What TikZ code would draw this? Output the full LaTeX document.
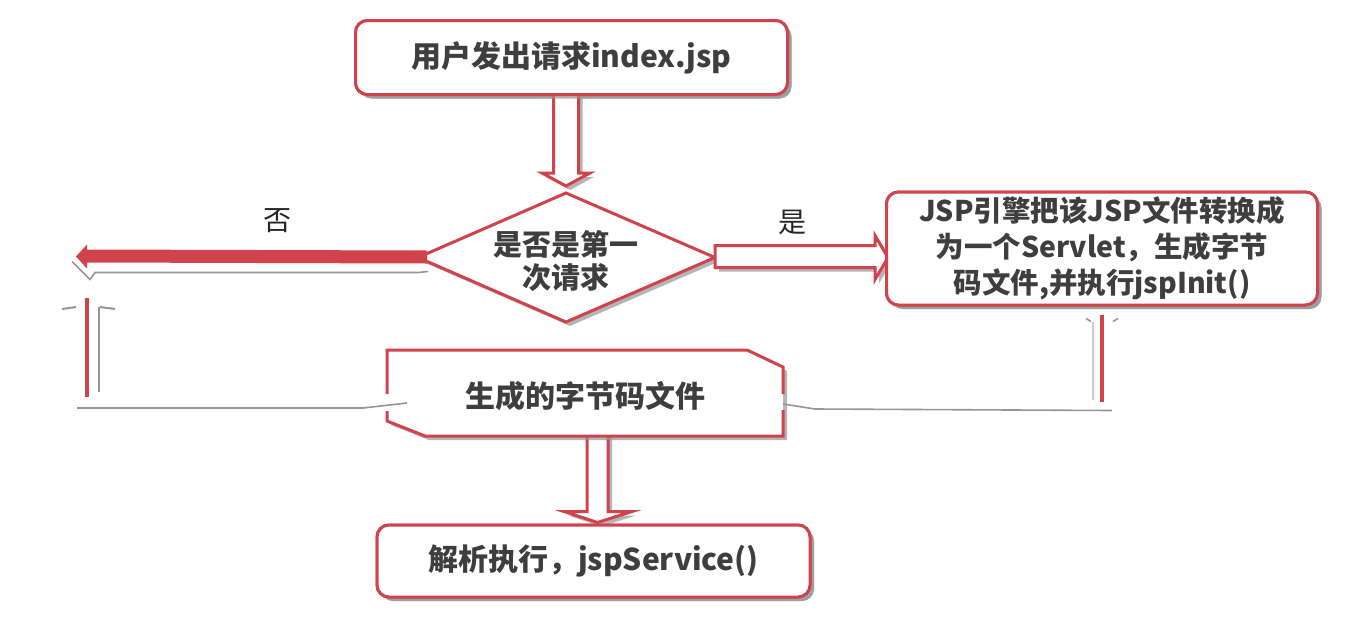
\documentclass[tikz,border=0pt]{standalone}
\usepackage{fontspec}
\setmainfont{Noto Sans CJK SC}
\usetikzlibrary{shadows,calc}
\definecolor{rd}{RGB}{208,66,76}
\definecolor{tx}{RGB}{62,62,62}
\definecolor{sh}{RGB}{150,150,150}
\tikzset{
 shd/.style={drop shadow={shadow xshift=4pt,shadow yshift=-4pt,fill=sh,opacity=.7}},
 box/.style={draw=rd,line width=3pt,fill=white,rounded corners=12pt,shd,font=\bfseries\fontsize{30}{36}\selectfont,text=tx,align=center,inner sep=0pt},
 txt/.style={font=\bfseries\fontsize{30}{34}\selectfont,text=tx,align=center,inner sep=0pt},
 lbl/.style={font=\fontsize{28}{30}\selectfont,text=black!85,inner sep=0pt},
 hollow/.style={draw=rd,line width=3pt,fill=white,shd,line join=miter},
 gline/.style={draw=sh,line width=1.6pt},
 rline/.style={draw=rd,line width=4pt},
 outl/.style={draw=rd,line width=3pt},
}
\begin{document}
\begin{tikzpicture}[x=1pt,y=-1pt]
\useasboundingbox[fill=white] (0,0) rectangle (1360,627);
% node placement (coordinates)
\coordinate (dN) at (566,193);
\coordinate (dS) at (566,322);
\coordinate (dW) at (418,257.5);
\coordinate (dE) at (715,257.5);
\coordinate (noend) at (76,256.5);
\coordinate (bNW) at (387,350);
\coordinate (bNE1) at (747,350);
\coordinate (bNE2) at (783,367);
\coordinate (bSE) at (783,436);
\coordinate (bSW1) at (425,436);
\coordinate (bSW2) at (387,421);
\coordinate (byteE) at (783,404);
\coordinate (byteW) at (387,404);
% arrows drawn beneath boxes
\path (571.5,57.5) coordinate (topc);
\node[box,minimum width=432pt,minimum height=74pt] (top) at (topc) {\phantom{X}};
\node[box,minimum width=431pt,minimum height=113pt] (jsp) at (1102,248.5) {\phantom{X}};
\node[box,minimum width=433pt,minimum height=72pt] (bot) at (593.5,561) {\phantom{X}};
% top hollow arrow
\draw[hollow] ($(top.south -| dN)+(-12.5,-3)$) -- ($(dN)+(-12.5,-20)$) -- ($(dN)+(-24,-20)$) -- ($(dN)+(0,-7)$) -- ($(dN)+(24,-20)$) -- ($(dN)+(12.5,-20)$) -- ($(top.south -| dN)+(12.5,-3)$);
% bottom hollow arrow
\draw[hollow] ($(bot.north)+(-6.5,-93)$) -- ($(bot.north)+(-6.5,-12)$) -- ($(bot.north)+(-29.5,-12)$) -- ($(bot.north)+(4,-1)$) -- ($(bot.north)+(38.5,-12)$) -- ($(bot.north)+(14.5,-12)$) -- ($(bot.north)+(14.5,-93)$);
% redraw boxes on top
\node[box,minimum width=432pt,minimum height=74pt] (top) at (topc) {用户发出请求index.jsp};
% diamond
\draw[hollow] (dN) -- (dE) -- (dS) -- (dW) -- cycle;
\node[txt,font=\bfseries\fontsize{29}{33}\selectfont] (dtext) at (566,261) {是否是第一\\次请求};
% yes arrow
\draw[hollow] ($(dE)+(0,-12)$) -- ($(jsp.west |- dE)+(-10,-12)$) -- ($(jsp.west |- dE)+(-10,-22)$) -- ($(jsp.west |- dE)+(3,0)$) -- ($(jsp.west |- dE)+(-10,22)$) -- ($(jsp.west |- dE)+(-10,10)$) -- ($(dE)+(0,10)$) -- cycle;
\node[box,minimum width=431pt,minimum height=113pt,font=\bfseries\fontsize{28.5}{36}\selectfont] (jsp) at (1102,248.5) {JSP引擎把该JSP文件转换成\\为一个Servlet，生成字节\\码文件,并执行jspInit()};
% no arrow (solid)
\draw[gline] ($(noend)+(-4,5)$) -- ($(noend)+(14,23)$) -- ($(noend)+(19,16)$) -- ($(dW)+(0,15)$) -- ($(dW)+(10,14)$);
\fill[rd] ($(dW)+(9,-7)$) -- ($(noend)+(11,-7)$) -- ($(noend)+(11,-12)$) -- (noend) -- ($(noend)+(11,12)$) -- ($(noend)+(11,6)$) -- ($(dW)+(9,6)$) -- cycle;
\node[lbl] (no) at (277,221) {否};
\node[lbl] (yes) at (792,222) {是};
% bytecode box
\fill[white,shd] (bNW) -- (bNE1) -- (bNE2) -- (bSE) -- (bSW1) -- (bSW2) -- cycle;
\draw[outl] (387,394) -- (bNW) -- (bNE1) -- (bNE2) -- (783,394);
\draw[outl] (783,410) -- (bSE) -- (bSW1) -- (bSW2) -- (387,411);
\node[txt] (byte) at (585,396) {生成的字节码文件};
% bottom box
\node[box,minimum width=433pt,minimum height=72pt] (bot) at (593.5,561) {解析执行，jspService()};
% right feedback connector
\coordinate (rA) at ($(jsp.south)+(0,8)$);
\coordinate (rB) at ($(jsp.south)+(0,95)$);
\draw[gline,draw=sh!50,line width=1.2pt] ($(jsp.south)+(-9,15)$) -- ($(jsp.south)+(-9,93)$);
\draw[gline] ($(jsp.south)+(-16,12)$) -- ($(jsp.south)+(-11,15)$);
\draw[gline] ($(jsp.south)+(11,15)$) -- ($(jsp.south)+(16,12)$);
\draw[rline] (rA) -- (rB);
\draw[gline] ($(rB)+(10,9)$) -- ($(byteE)+(32,5)$) -- (byteE);
% left feedback connector
\coordinate (lA) at (87,298);
\coordinate (lB) at (87,397);
\draw[gline,line width=1.2pt] (99,307) -- (99,392);
\draw[gline,line width=2pt] (62,309) -- (76,307);
\draw[gline,line width=2pt] (100,307) -- (115,309);
\draw[rline] (lA) -- (lB);
\draw[gline] (77,408) -- ($(byteW)+(-24,4)$) -- ($(byteW)+(20,-1)$);
\end{tikzpicture}
\end{document}
